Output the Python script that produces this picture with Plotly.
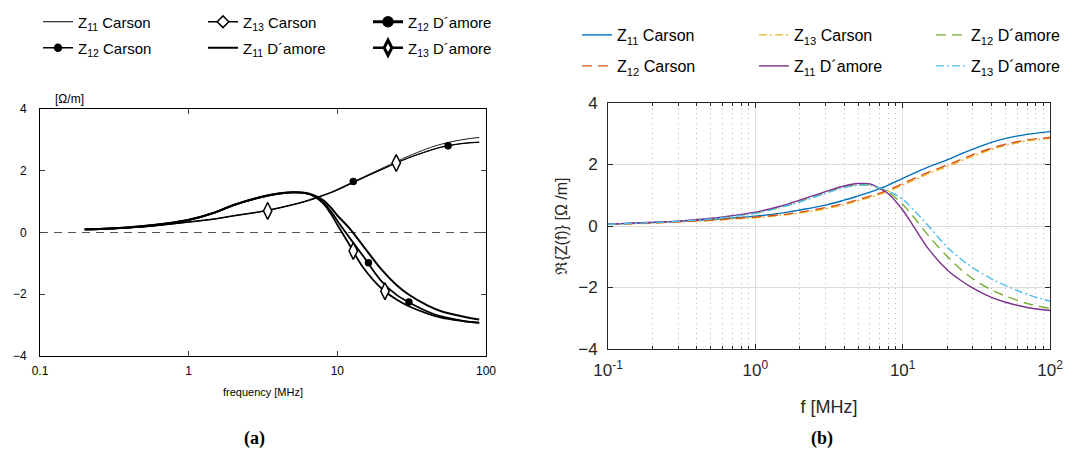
import plotly.graph_objects as go

W, H = 1079, 456

# ---------------- (a) digitised chart ----------------
freq_a = [0.2, 0.3, 0.5, 0.7, 1, 1.5, 2, 3, 4, 5, 6, 7, 8, 9, 10, 12, 15, 20, 25, 30, 40, 50, 70, 90]
a_z11_carson = [0.10, 0.13, 0.19, 0.26, 0.35, 0.45, 0.55, 0.68, 0.80, 0.91, 1.01, 1.12, 1.21, 1.30, 1.40, 1.58, 1.80, 2.08, 2.30, 2.47, 2.71, 2.86, 3.01, 3.08]
a_z12_carson = [0.10, 0.13, 0.18, 0.25, 0.34, 0.44, 0.54, 0.67, 0.79, 0.90, 1.00, 1.10, 1.20, 1.29, 1.38, 1.56, 1.78, 2.05, 2.26, 2.42, 2.63, 2.77, 2.89, 2.93]
a_z13_carson = [0.10, 0.12, 0.18, 0.25, 0.33, 0.43, 0.53, 0.66, 0.78, 0.89, 0.99, 1.09, 1.19, 1.28, 1.37, 1.55, 1.77, 2.04, 2.25, 2.41, 2.62, 2.76, 2.88, 2.92]
a_z11_damore = [0.10, 0.13, 0.21, 0.29, 0.41, 0.65, 0.89, 1.14, 1.26, 1.30, 1.29, 1.20, 1.05, 0.82, 0.55, 0.15, -0.45, -1.22, -1.70, -2.00, -2.35, -2.55, -2.72, -2.82]
a_z12_damore = [0.10, 0.13, 0.21, 0.29, 0.41, 0.65, 0.89, 1.14, 1.26, 1.30, 1.28, 1.18, 0.98, 0.70, 0.38, -0.15, -0.78, -1.60, -2.02, -2.25, -2.55, -2.72, -2.86, -2.92]
a_z13_damore = [0.10, 0.13, 0.20, 0.28, 0.40, 0.64, 0.88, 1.13, 1.25, 1.30, 1.28, 1.17, 0.95, 0.62, 0.25, -0.38, -1.15, -1.83, -2.17, -2.38, -2.62, -2.76, -2.87, -2.93]

mk_z12_carson_f = [12.8, 55.6]
mk_z12_carson_v = [1.65, 2.81]
mk_z13_carson_f = [3.4, 24.9]
mk_z13_carson_v = [0.70, 2.25]
mk_z12_damore_f = [16.2, 30.3]
mk_z12_damore_v = [-0.98, -2.25]
mk_z13_damore_f = [12.8, 20.9]
mk_z13_damore_v = [-0.60, -1.90]

# ---------------- (b) computed chart ----------------
freq_b = [0.1, 0.2, 0.3, 0.5, 0.7, 1, 1.5, 2, 3, 4, 5, 6, 7, 8, 10, 12, 15, 20, 25, 30, 40, 50, 70, 100]
b_z11_carson = [0.06, 0.11, 0.15, 0.21, 0.26, 0.32, 0.42, 0.52, 0.68, 0.84, 0.98, 1.10, 1.22, 1.33, 1.55, 1.72, 1.92, 2.15, 2.35, 2.50, 2.72, 2.85, 2.98, 3.07]
b_z12_carson = [0.055, 0.10, 0.14, 0.19, 0.24, 0.29, 0.37, 0.45, 0.60, 0.73, 0.86, 0.97, 1.07, 1.17, 1.38, 1.55, 1.75, 1.98, 2.17, 2.32, 2.53, 2.66, 2.80, 2.88]
b_z13_carson = [0.05, 0.095, 0.13, 0.18, 0.23, 0.27, 0.35, 0.42, 0.56, 0.69, 0.82, 0.93, 1.03, 1.13, 1.33, 1.50, 1.70, 1.93, 2.12, 2.27, 2.49, 2.62, 2.77, 2.85]
b_z11_damore = [0.06, 0.12, 0.16, 0.25, 0.34, 0.45, 0.65, 0.84, 1.12, 1.30, 1.38, 1.37, 1.22, 1.05, 0.52, -0.05, -0.75, -1.42, -1.78, -2.02, -2.32, -2.48, -2.65, -2.75]
b_z12_damore = [0.055, 0.11, 0.15, 0.23, 0.32, 0.42, 0.62, 0.80, 1.08, 1.27, 1.34, 1.33, 1.22, 1.10, 0.70, 0.27, -0.32, -0.98, -1.42, -1.72, -2.08, -2.28, -2.52, -2.68]
b_z13_damore = [0.055, 0.11, 0.15, 0.23, 0.31, 0.41, 0.61, 0.78, 1.06, 1.25, 1.32, 1.32, 1.24, 1.14, 0.87, 0.50, 0.00, -0.68, -1.08, -1.36, -1.72, -1.94, -2.22, -2.45]

names = {
    "z11c": "Z<sub>11</sub> Carson",
    "z12c": "Z<sub>12</sub> Carson",
    "z13c": "Z<sub>13</sub> Carson",
    "z11d": "Z<sub>11</sub> D\u00b4amore",
    "z12d": "Z<sub>12</sub> D\u00b4amore",
    "z13d": "Z<sub>13</sub> D\u00b4amore",
}

x_ticks = [0.1, 1, 10, 100]
a_x_ticktext = ["0.1", "1", "10", "100"]
b_x_ticktext = ["10<sup>-1</sup>", "10<sup>0</sup>", "10<sup>1</sup>", "10<sup>2</sup>"]
y_ticks = [-4, -2, 0, 2, 4]

fig = go.Figure()
BLK = "black"

# ----- (a) curves -----
def a_line(y, width):
    fig.add_trace(go.Scatter(x=freq_a, y=y, mode="lines", xaxis="x", yaxis="y",
                             line=dict(color=BLK, width=width, shape="spline"),
                             showlegend=False, hoverinfo="skip"))

a_line(a_z11_carson, 0.9)
a_line(a_z12_carson, 1.0)
a_line(a_z13_carson, 1.0)
a_line(a_z11_damore, 2.0)
a_line(a_z12_damore, 1.8)
a_line(a_z13_damore, 1.8)

def a_marks(fx, fy, symbol, size, fill):
    fig.add_trace(go.Scatter(x=fx, y=fy, mode="markers", xaxis="x", yaxis="y",
                             marker=dict(symbol=symbol, size=size, color=fill,
                                         line=dict(color=BLK, width=1.5)),
                             showlegend=False, hoverinfo="skip"))

a_marks(mk_z12_carson_f, mk_z12_carson_v, "circle", 6, BLK)
a_marks(mk_z13_carson_f, mk_z13_carson_v, "diamond-tall", 12, "white")
a_marks(mk_z12_damore_f, mk_z12_damore_v, "circle", 6, BLK)
a_marks(mk_z13_damore_f, mk_z13_damore_v, "diamond-tall", 12, "white")

# ----- (a) legend entries (symbols only) -----
def a_leg(name, width, symbol, size, fill, legend, mlw=1.5):
    mode = "lines" if symbol is None else "lines+markers"
    marker = dict(symbol=symbol or "circle", size=size, color=fill, line=dict(color=BLK, width=mlw))
    fig.add_trace(go.Scatter(x=[None], y=[None], mode=mode, xaxis="x", yaxis="y",
                             line=dict(color=BLK, width=width), marker=marker,
                             name=name, legend=legend))

a_leg(names["z11c"], 1.0, None, 6, BLK, "legend")
a_leg(names["z13c"], 1.3, "diamond", 9, "white", "legend")
a_leg(names["z12d"], 3.0, "circle", 10, BLK, "legend")
a_leg(names["z12c"], 1.3, "circle", 7, BLK, "legend2")
a_leg(names["z11d"], 2.2, None, 6, BLK, "legend2")
a_leg(names["z13d"], 2.6, "diamond-tall", 11, "white", "legend2", mlw=3)

# ----- (b) curves -----
b_series = [
    ("z11c", b_z11_carson, "#0072BD", "solid", "legend3"),
    ("z13c", b_z13_carson, "#EDB120", "8px,3px,2px,3px", "legend3"),
    ("z12d", b_z12_damore, "#77AC30", "10px,6px", "legend3"),
    ("z12c", b_z12_carson, "#D95319", "10px,6px", "legend4"),
    ("z11d", b_z11_damore, "#7E2F8E", "solid", "legend4"),
    ("z13d", b_z13_damore, "#4DBEEE", "8px,3px,2px,3px", "legend4"),
]
for key, vals, col, dash, leg in b_series:
    fig.add_trace(go.Scatter(x=freq_b, y=vals, mode="lines", xaxis="x2", yaxis="y2",
                             line=dict(color=col, width=1.4, dash=dash, shape="spline"),
                             name=names[key], legend=leg, hoverinfo="skip"))

GR = "#262626"
minor_vals = [m * 10 ** e for e in (-1, 0, 1) for m in range(2, 10)]

legend_common = dict(orientation="h", xanchor="left", yanchor="middle", bgcolor="rgba(0,0,0,0)",
                     borderwidth=0, entrywidthmode="pixels", tracegroupgap=0)

fig.update_layout(
    width=W, height=H, margin=dict(l=0, r=0, t=0, b=0, autoexpand=False),
    paper_bgcolor="white", plot_bgcolor="white",
    font=dict(family="Liberation Sans, Arial, sans-serif", color=BLK),
    xaxis=dict(type="log", range=[-1, 2], domain=[40 / W, 486 / W], anchor="y", automargin=False,
               tickvals=x_ticks, ticktext=a_x_ticktext, ticks="inside", ticklen=5,
               showline=True, linecolor=BLK, linewidth=1, mirror="ticks", showgrid=False,
               zeroline=False, tickfont=dict(size=12), ticklabelstandoff=4,
               title=dict(text="frequency [MHz]", font=dict(size=11), standoff=10)),
    yaxis=dict(range=[-4, 4], domain=[1 - 356 / H, 1 - 109 / H], anchor="x", automargin=False,
               tickvals=y_ticks, ticks="inside", ticklen=5, showline=True, linecolor=BLK,
               linewidth=1, mirror="ticks", showgrid=False, zeroline=False,
               tickfont=dict(size=12), ticklabelstandoff=10),
    xaxis2=dict(type="log", range=[-1, 2], domain=[608 / W, 1050 / W], anchor="y2", automargin=False,
                tickvals=x_ticks, ticktext=b_x_ticktext, ticks="inside", ticklen=5,
                tickcolor=GR, showline=True, linecolor=GR, linewidth=1, mirror="ticks",
                showgrid=True, gridcolor="#dedede", gridwidth=1.2, zeroline=False,
                tickfont=dict(size=17, color=GR), ticklabelstandoff=6,
                minor=dict(tickvals=minor_vals, ticks="inside", ticklen=3, tickcolor=GR,
                           showgrid=True, gridcolor="#b8b8b8", griddash="1px,4px", gridwidth=1),
                title=dict(text="f [MHz]", font=dict(size=18, color=GR), standoff=20)),
    yaxis2=dict(range=[-4, 4], domain=[1 - 349 / H, 1 - 103 / H], anchor="x2", automargin=False,
                tickvals=y_ticks, ticks="inside", ticklen=5, tickcolor=GR, showline=True,
                linecolor=GR, linewidth=1, mirror="ticks", showgrid=True, gridcolor="#dedede",
                gridwidth=1.2, zeroline=False, tickfont=dict(size=17, color=GR), ticklabelstandoff=6,
                title=dict(text="\u211c{Z(f)} [\u03a9 /m]", font=dict(size=16, color=GR), standoff=6)),
    legend=dict(x=38 / W, y=1 - 22 / H, entrywidth=120, font=dict(size=15), **legend_common),
    legend2=dict(x=38 / W, y=1 - 48 / H, entrywidth=120, font=dict(size=15), **legend_common),
    legend3=dict(x=577 / W, y=1 - 35 / H, entrywidth=132, font=dict(size=16, color=BLK), **legend_common),
    legend4=dict(x=577 / W, y=1 - 66 / H, entrywidth=132, font=dict(size=16, color=BLK), **legend_common),
    shapes=[dict(type="line", xref="x domain", yref="y", x0=0, x1=1, y0=0, y1=0,
                 line=dict(color="#555555", width=1, dash="8px,6px"), layer="below")],
    annotations=[
        dict(text="[\u03a9/m]", xref="paper", yref="paper", x=70 / W, y=1 - 99 / H,
             xanchor="center", yanchor="middle", showarrow=False, font=dict(size=12)),
        dict(text="<b>(a)</b>", xref="paper", yref="paper", x=254 / W, y=1 - 438 / H,
             xanchor="center", yanchor="middle", showarrow=False,
             font=dict(size=18, family="Liberation Serif, serif")),
        dict(text="<b>(b)</b>", xref="paper", yref="paper", x=822 / W, y=1 - 438 / H,
             xanchor="center", yanchor="middle", showarrow=False,
             font=dict(size=18, family="Liberation Serif, serif")),
    ],
)

fig.write_html("out.html")
